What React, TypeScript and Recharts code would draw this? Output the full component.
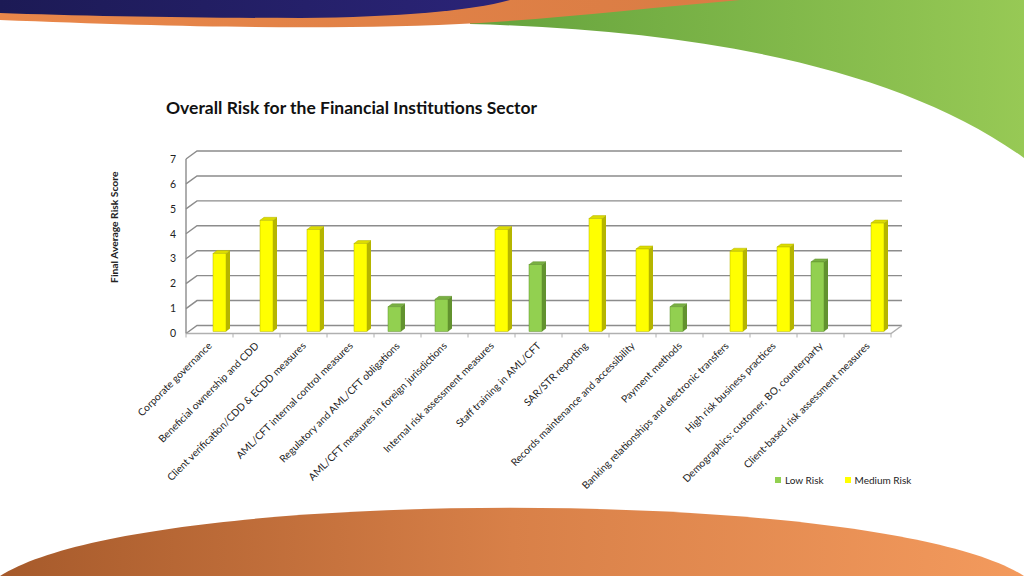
import { BarChart, Bar, XAxis, YAxis, CartesianGrid, Legend } from "recharts";

const categories = [
  "Corporate governance",
  "Beneficial ownership and CDD",
  "Client verification/CDD & ECDD measures",
  "AML/CFT internal control measures",
  "Regulatory and AML/CFT obligations",
  "AML/CFT measures in foreign jurisdictions",
  "Internal risk assessment measures",
  "Staff training in AML/CFT",
  "SAR/STR reporting",
  "Records maintenance and accessibility",
  "Payment methods",
  "Banking relationships and electronic transfers",
  "High risk business practices",
  "Demographics: customer, BO, counterparty",
  "Client-based risk assessment measures",
];

const lowRisk = [null, null, null, null, 0.99, 1.29, null, 2.68, null, null, 0.99, null, null, 2.79, null];
const mediumRisk = [3.13, 4.46, 4.09, 3.53, null, null, 4.09, null, 4.53, 3.31, null, 3.22, 3.39, null, 4.35];
const yTicks = [0, 1, 2, 3, 4, 5, 6, 7];

const data = categories.map((name, i) => ({ name, low: lowRisk[i], medium: mediumRisk[i] }));

const FONT = "Lato, 'Open Sans', sans-serif";
const GRID = "#8c8c8c";
// depth of the fake 3D floor / walls
const DX = 11;
const DY = 8;
const PLOT_BOTTOM = 333.5;

const makeBar = (front: string, side: string, top: string) => (props: any) => {
  const { x, y, width, height } = props;
  if (!height || height <= 0) return null;
  const fx = x + 3;
  const fy = y - 2;
  const d = 4;
  const dd = 3;
  return (
    <g>
      <polygon
        points={`${fx},${fy} ${fx + d},${fy - dd} ${fx + width + d},${fy - dd} ${fx + width},${fy}`}
        fill={top}
        stroke={side}
        strokeWidth={0.5}
      />
      <polygon
        points={`${fx + width},${fy} ${fx + width + d},${fy - dd} ${fx + width + d},${fy + height - dd} ${fx + width},${fy + height}`}
        fill={side}
      />
      <rect x={fx} y={fy} width={width} height={height} fill={front} stroke={side} strokeWidth={0.5} />
    </g>
  );
};

const GridLine = (p: any) => {
  const { x1, y1, x2 } = p;
  const isFloor = y1 >= PLOT_BOTTOM - 1;
  return (
    <g key={p.key}>
      <polyline
        points={`${x1},${y1} ${x1 + DX},${y1 - DY} ${x2 + DX},${y1 - DY}`}
        fill="none"
        stroke={GRID}
        strokeWidth={1.4}
      />
      {isFloor && (
        <polyline
          points={`${x1},${y1} ${x2},${y1} ${x2 + DX},${y1 - DY}`}
          fill="none"
          stroke="#b0b0b0"
          strokeWidth={1.4}
        />
      )}
    </g>
  );
};

const XTick = (props: any) => {
  const { x, y, payload, index } = props;
  const half = 23.5;
  const ax = x + 3;
  const ay = y + 13;
  return (
    <g>
      <line x1={x + half} y1={y} x2={x + half} y2={y + 4} stroke="#b0b0b0" />
      {index === 0 && <line x1={x - half} y1={y} x2={x - half} y2={y + 4} stroke="#b0b0b0" />}
      <text
        x={ax}
        y={ay}
        transform={`rotate(-45, ${ax}, ${ay})`}
        textAnchor="end"
        fontSize={10.2}
        fontFamily={FONT}
        fill="#222"
      >
        {payload.value}
      </text>
    </g>
  );
};

const LegendContent = () => (
  <div style={{ display: "flex", fontFamily: FONT, fontSize: 10, color: "#222", alignItems: "center" }}>
    <span style={{ width: 6, height: 6, background: "#92d050", marginRight: 4 }} />
    <span style={{ marginRight: 21 }}>Low Risk</span>
    <span style={{ width: 6, height: 6, background: "#ffff00", marginRight: 4 }} />
    <span>Medium Risk</span>
  </div>
);

const Background = () => (
  <svg width={1024} height={576} style={{ position: "absolute", left: 0, top: 0 }}>
    <defs>
      <linearGradient id="green" x1="0" x2="1" y1="0" y2="0">
        <stop offset="0" stopColor="#64a23c" />
        <stop offset="1" stopColor="#97c955" />
      </linearGradient>
      <linearGradient id="navy" x1="0" x2="1" y1="0" y2="0">
        <stop offset="0" stopColor="#1c1a55" />
        <stop offset="1" stopColor="#2b2478" />
      </linearGradient>
      <linearGradient id="orangeTop" x1="0" x2="1" y1="0" y2="0">
        <stop offset="0" stopColor="#e9874a" />
        <stop offset="1" stopColor="#d97c44" />
      </linearGradient>
      <linearGradient id="orangeBottom" x1="0" x2="1" y1="0" y2="0">
        <stop offset="0" stopColor="#a65a2b" />
        <stop offset="0.5" stopColor="#d88048" />
        <stop offset="1" stopColor="#f39a5d" />
      </linearGradient>
    </defs>
    <path d="M470,24 C700,30 900,68 1024,158 L1024,0 L470,0 Z" fill="url(#green)" />
    <path d="M0,0 L740,0 C650,8 560,18 480,23 C350,30 200,28 0,20 Z" fill="url(#orangeTop)" />
    <path d="M0,0 L510,0 C470,11 400,17 300,18 C200,18 80,16 0,13 Z" fill="url(#navy)" />
    <path d="M0,576 C140,485 880,485 1024,576 Z" fill="url(#orangeBottom)" />
  </svg>
);

export default function App() {
  return (
    <div style={{ position: "absolute", left: 0, top: 0, width: 1024, height: 576, overflow: "hidden", background: "#fff" }}>
      <Background />
      <div
        style={{
          position: "absolute",
          left: 166,
          top: 97,
          fontFamily: FONT,
          fontWeight: 700,
          fontSize: 17.5,
          color: "#111",
        }}
      >
        Overall Risk for the Financial Institutions Sector
      </div>
      <div style={{ position: "absolute", left: 0, top: 0 }}>
        <BarChart
          width={1024}
          height={576}
          data={data}
          margin={{ top: 159, left: 146, right: 133, bottom: 122.5 }}
          barGap={0}
          barSize={13}
        >
          <CartesianGrid vertical={false} horizontal={GridLine} />
          <XAxis
            dataKey="name"
            interval={0}
            height={120}
            axisLine={false}
            tickLine={false}
            tickSize={0}
            tickMargin={0}
            tick={XTick}
          />
          <YAxis
            width={40}
            domain={[0, 7]}
            ticks={yTicks}
            interval={0}
            tickLine={false}
            tickSize={0}
            tickMargin={10}
            axisLine={{ stroke: GRID, strokeWidth: 1.4 }}
            tick={{ fontSize: 10.5, fontFamily: FONT, fill: "#222" }}
            label={{
              content: (lp: any) => {
                const vb = lp.viewBox;
                const cx = vb.x - 32.5;
                const cy = vb.y + vb.height / 2 - 19;
                return (
                  <text
                    x={cx}
                    y={cy}
                    transform={`rotate(-90, ${cx}, ${cy})`}
                    textAnchor="middle"
                    dominantBaseline="central"
                    fontSize={10.3}
                    fontWeight={700}
                    fontFamily={FONT}
                    fill="#222"
                  >
                    Final Average Risk Score
                  </text>
                );
              },
            }}
          />
          <Legend
            layout="horizontal"
            verticalAlign="middle"
            align="center"
            wrapperStyle={{ left: 775, top: 474, width: 150 }}
            content={LegendContent}
          />
          <Bar
            dataKey="low"
            name="Low Risk"
            fill="#92d050"
            isAnimationActive={false}
            shape={makeBar("#92d050", "#62922f", "#79b043")}
          />
          <Bar
            dataKey="medium"
            name="Medium Risk"
            fill="#ffff00"
            isAnimationActive={false}
            shape={makeBar("#ffff00", "#b5b500", "#dcdc00")}
          />
        </BarChart>
      </div>
    </div>
  );
}
